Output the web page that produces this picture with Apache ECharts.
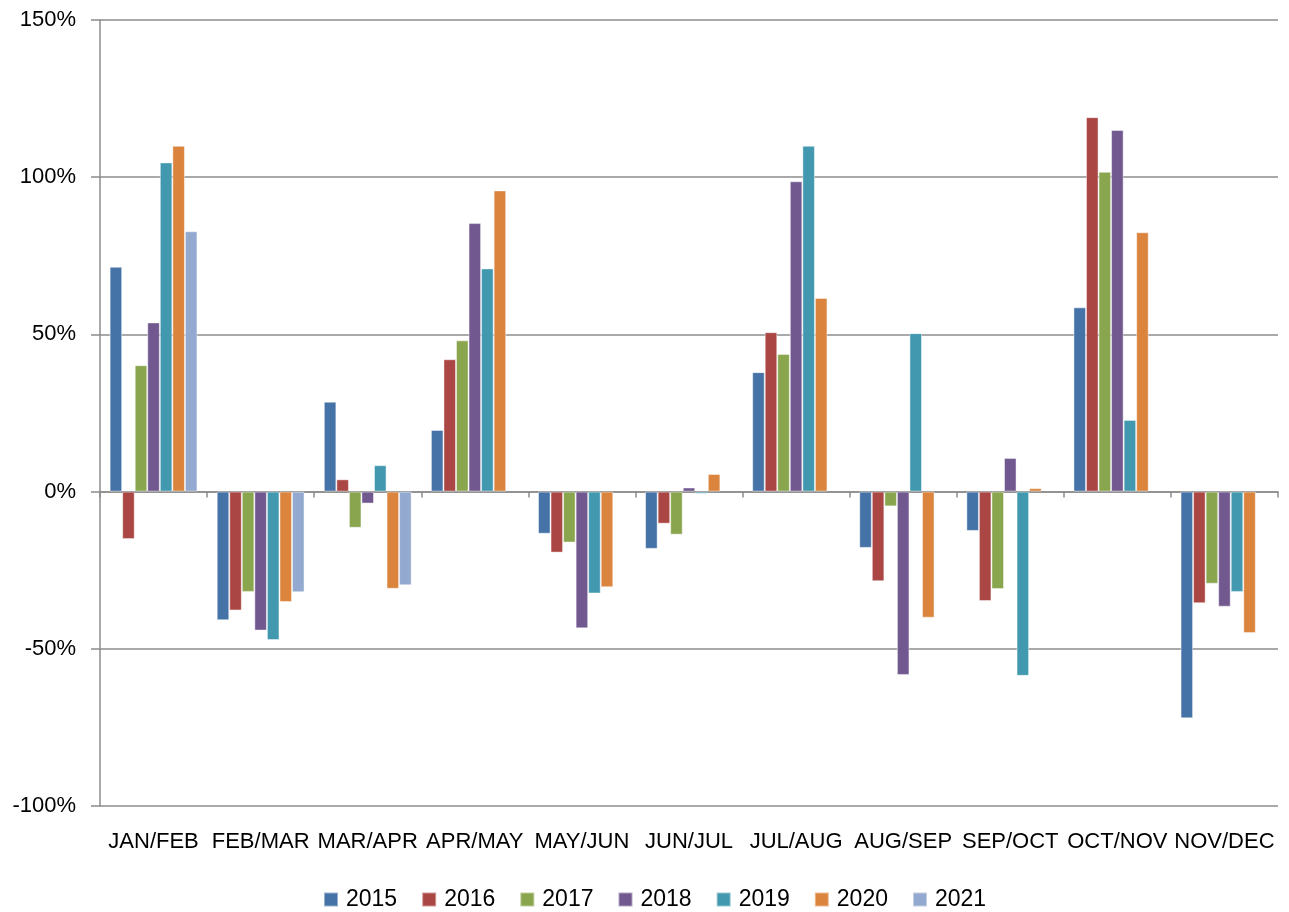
<!DOCTYPE html>
<html>
<head>
<meta charset="utf-8">
<script src="https://cdn.jsdelivr.net/npm/echarts@6/dist/echarts.min.js"></script>
<style>html,body{margin:0;padding:0;background:#fff;}#c{width:1289px;height:912px;}</style>
</head>
<body>
<div id="c"></div>
<script>
const categories = ['JAN/FEB','FEB/MAR','MAR/APR','APR/MAY','MAY/JUN','JUN/JUL','JUL/AUG','AUG/SEP','SEP/OCT','OCT/NOV','NOV/DEC'];
const years = ['2015','2016','2017','2018','2019','2020','2021'];
const s2015 = [71.5, -40.9, 28.6, 19.6, -13.4, -18.2, 38.0, -17.9, -12.5, 58.6, -72.1];
const s2016 = [-15.1, -37.8, 3.9, 42.1, -19.4, -10.2, 50.7, -28.5, -34.8, 119.1, -35.5];
const s2017 = [40.2, -31.9, -11.5, 48.1, -16.2, -13.7, 43.8, -4.7, -31.0, 101.7, -29.3];
const s2018 = [53.8, -44.2, -3.8, 85.4, -43.5, 1.3, 98.7, -58.3, 10.7, 115.0, -36.6];
const s2019 = [104.7, -47.2, 8.4, 71.0, -32.4, -0.7, 110.0, 50.4, -58.6, 22.8, -31.9];
const s2020 = [110.0, -35.1, -30.9, 95.8, -30.4, 5.6, 61.6, -40.1, 1.1, 82.5, -45.0];
const s2021 = [82.8, -32.0, -29.8, null, null, null, null, null, null, null, null];
const yTicks = [-100, -50, 0, 50, 100, 150];
const colors = ['#4572A7','#AA4643','#89A54E','#71588F','#4198AF','#DB843D','#93A9CF'];
const allSeries = [s2015, s2016, s2017, s2018, s2019, s2020, s2021];

const chart = echarts.init(document.getElementById('c'));
const font = 'Liberation Sans, Arial, sans-serif';
chart.setOption({
  animation: false,
  color: colors,
  grid: { left: 100, right: 11, top: 20, bottom: 106, containLabel: false },
  legend: {
    left: 318, top: 883,
    data: years,
    icon: 'rect',
    itemWidth: 14, itemHeight: 14, itemGap: 24,
    textStyle: { fontFamily: font, fontSize: 23, color: '#000', padding: [0,0,0,3] }
  },
  xAxis: [
    {
      type: 'category', data: categories, position: 'bottom',
      axisLine: { show: false, onZero: false },
      axisTick: { show: false },
      axisLabel: { interval: 0, margin: 25, fontFamily: font, fontSize: 22, color: '#000' },
      splitLine: { show: false }
    },
    {
      type: 'category', data: categories, position: 'bottom',
      axisLine: { show: true, onZero: true, lineStyle: { color: '#8c8c8c', width: 1.5 } },
      axisTick: { show: true, length: 6, interval: 0, lineStyle: { color: '#8c8c8c', width: 1.5 } },
      axisLabel: { show: false },
      splitLine: { show: false }
    }
  ],
  yAxis: {
    type: 'value', min: yTicks[0], max: yTicks[yTicks.length - 1], interval: 50,
    axisLine: { show: true, lineStyle: { color: '#8c8c8c', width: 1.5 } },
    axisTick: { show: true, length: 9, lineStyle: { color: '#8c8c8c', width: 1.5 } },
    axisLabel: { formatter: '{value}%', margin: 24, fontFamily: font, fontSize: 22, color: '#000' },
    splitLine: { show: true, lineStyle: { color: '#8c8c8c', width: 1.5 } }
  },
  series: years.map((y, i) => ({
    name: y, type: 'bar', xAxisIndex: 0,
    data: allSeries[i],
    barGap: '0%', barCategoryGap: '18%',
    itemStyle: { color: colors[i], borderColor: 'rgba(255,255,255,0.45)', borderWidth: 1 }
  }))
});
</script>
</body>
</html>
